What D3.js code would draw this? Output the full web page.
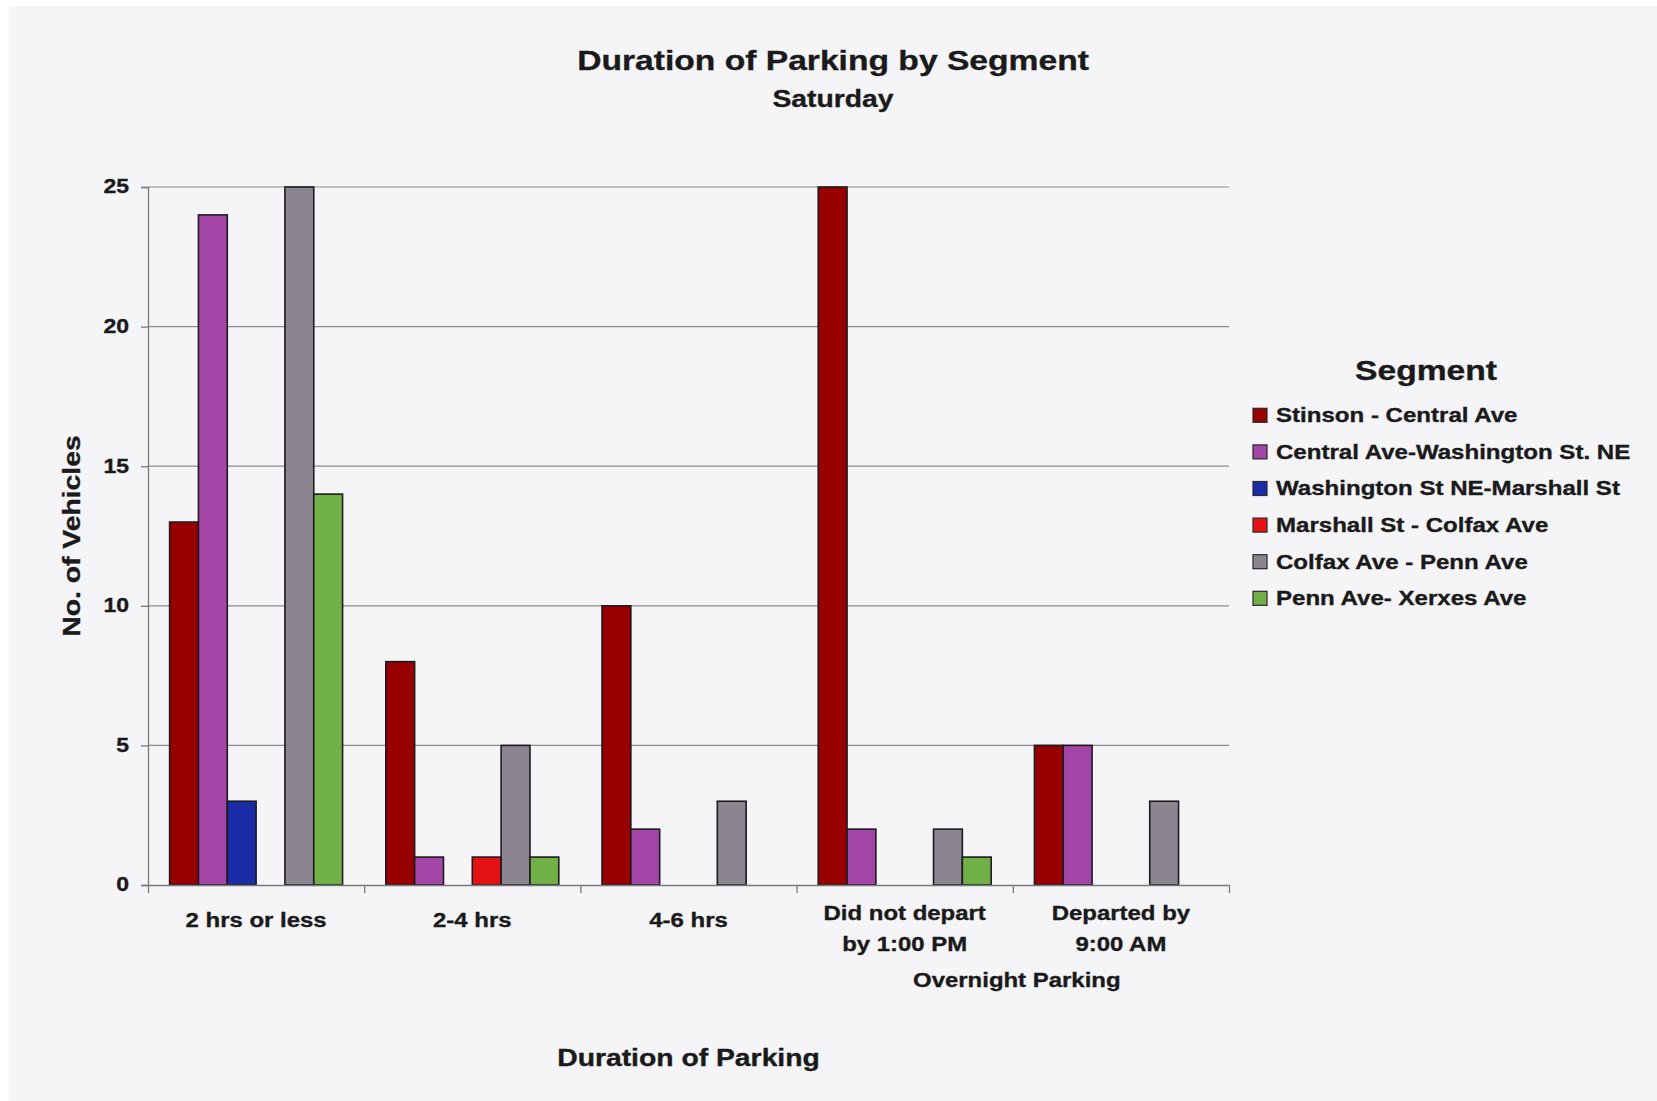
<!DOCTYPE html>
<html>
<head>
<meta charset="utf-8">
<script src="https://cdn.jsdelivr.net/npm/d3@7"></script>
<style>
  html, body { margin: 0; padding: 0; background: #ffffff; }
  svg { display: block; }
  text { font-family: "Liberation Sans", Arial, Helvetica, sans-serif; font-weight: bold; fill: #1a1a1a; stroke: #1a1a1a; stroke-width: 0.35px; }
</style>
</head>
<body>
<svg id="chart" width="1657" height="1101"></svg>
<script>
// ---- Data ----
const categories = ["2 hrs or less", "2-4 hrs", "4-6 hrs", "Did not depart\nby 1:00 PM", "Departed by\n9:00 AM"];
const seriesNames = ["Stinson - Central Ave", "Central Ave-Washington St. NE", "Washington St NE-Marshall St", "Marshall St - Colfax Ave", "Colfax Ave - Penn Ave", "Penn Ave- Xerxes Ave"];
const stinson    = [13, 8, 10, 25, 5];
const centralAve = [24, 1, 2, 2, 5];
const washington = [3, 0, 0, 0, 0];
const marshall   = [0, 1, 0, 0, 0];
const colfax     = [25, 5, 3, 2, 3];
const penn       = [14, 1, 0, 1, 0];
const seriesValues = [stinson, centralAve, washington, marshall, colfax, penn];
const seriesColors = ["#980000", "#a346a8", "#1a2ca6", "#e41212", "#8a8590", "#70b046"];
const yTicks = [0, 5, 10, 15, 20, 25];
const titleText = "Duration of Parking by Segment";
const subtitleText = "Saturday";
const yTitle = "No. of Vehicles";
const xTitle = "Duration of Parking";
const groupLabel = "Overnight Parking";
const legendTitle = "Segment";

// ---- Layout ----
const svg = d3.select("#chart");
const SX = 1.18; // horizontal stretch of the scanned typography
const plot = { left: 148, right: 1229, top: 187, bottom: 885 };

svg.append("rect").attr("x", 9).attr("y", 6).attr("width", 1648).attr("height", 1095).attr("fill", "#f5f5f8");

function label(x, y, txt, size, anchor) {
  return svg.append("text")
    .attr("transform", `translate(${x},${y}) scale(${SX},1)`)
    .attr("text-anchor", anchor || "middle")
    .attr("dominant-baseline", "central")
    .attr("font-size", size)
    .text(txt);
}

const x0 = d3.scaleBand().domain(d3.range(categories.length)).range([plot.left, plot.right]).padding(0);
const bw = x0.bandwidth();
const x1 = d3.scaleBand().domain(d3.range(seriesNames.length)).range([bw * 0.1, bw * 0.9]).padding(0);
const y = d3.scaleLinear().domain([0, 25]).range([plot.bottom, plot.top]);

// gridlines
svg.append("g").selectAll("line").data(yTicks.filter(t => t > 0)).join("line")
  .attr("x1", plot.left).attr("x2", plot.right)
  .attr("y1", d => y(d)).attr("y2", d => y(d))
  .attr("stroke", "#8c8c90").attr("stroke-width", 1.2);

// y axis
const yAxis = d3.axisLeft(y).tickValues(yTicks).tickSize(7).tickFormat("");
const gy = svg.append("g").attr("transform", `translate(${plot.left},0)`).call(yAxis);
gy.select(".domain").attr("stroke", "#7a7a7e").attr("stroke-width", 1.3);
gy.selectAll(".tick line").attr("stroke", "#7a7a7e").attr("stroke-width", 1.3);
yTicks.forEach(t => label(129, y(t), String(t), 19.5, "end"));

// bars
const groups = svg.append("g").selectAll("g").data(categories).join("g")
  .attr("transform", (d, i) => `translate(${x0(i)},0)`);
groups.selectAll("rect")
  .data((d, i) => seriesValues.map((vals, s) => ({ s, v: vals[i] })).filter(e => e.v > 0))
  .join("rect")
  .attr("x", d => x1(d.s))
  .attr("width", x1.bandwidth())
  .attr("y", d => y(d.v))
  .attr("height", d => y(0) - y(d.v))
  .attr("fill", d => seriesColors[d.s])
  .attr("stroke", "#1e1a1e").attr("stroke-width", 1.6);

// x axis
const xBoundaries = d3.range(categories.length + 1).map(i => plot.left + i * bw);
const xScaleLin = d3.scaleLinear().domain([plot.left, plot.right]).range([plot.left, plot.right]);
const xAxis = d3.axisBottom(xScaleLin).tickValues(xBoundaries).tickSize(8).tickFormat("").tickSizeOuter(0);
const gx = svg.append("g").attr("transform", `translate(0,${plot.bottom})`).call(xAxis);
gx.select(".domain").attr("stroke", "#7a7a7e").attr("stroke-width", 1.3);
gx.selectAll(".tick line").attr("stroke", "#7a7a7e").attr("stroke-width", 1.3);

// category labels
categories.forEach((c, i) => {
  const lines = c.split("\n");
  const cx = x0(i) + bw / 2;
  if (lines.length === 1) {
    label(cx, 920, lines[0], 20.3);
  } else {
    label(cx, 913, lines[0], 20.3);
    label(cx, 944, lines[1], 20.3);
  }
});
label(plot.left + 4 * bw + 4, 980, groupLabel, 20.3);

// titles
label(833, 60, titleText, 28.5);
label(833, 99, subtitleText, 24);
label((plot.left + plot.right) / 2, 1058, xTitle, 24);
svg.append("text")
  .attr("transform", `translate(72,${(plot.top + plot.bottom) / 2}) rotate(-90) scale(${SX},1)`)
  .attr("text-anchor", "middle").attr("dominant-baseline", "central")
  .attr("font-size", 24).text(yTitle);

// legend
label(1426, 370, legendTitle, 28.5);
const leg = svg.append("g");
seriesNames.forEach((n, i) => {
  const cy = 415.3 + i * 36.6;
  leg.append("rect").attr("x", 1253).attr("y", cy - 7).attr("width", 14).attr("height", 14)
    .attr("fill", seriesColors[i]).attr("stroke", "#2a2a2a").attr("stroke-width", 1.2);
  label(1276, cy, n, 20.4, "start");
});
</script>
</body>
</html>
